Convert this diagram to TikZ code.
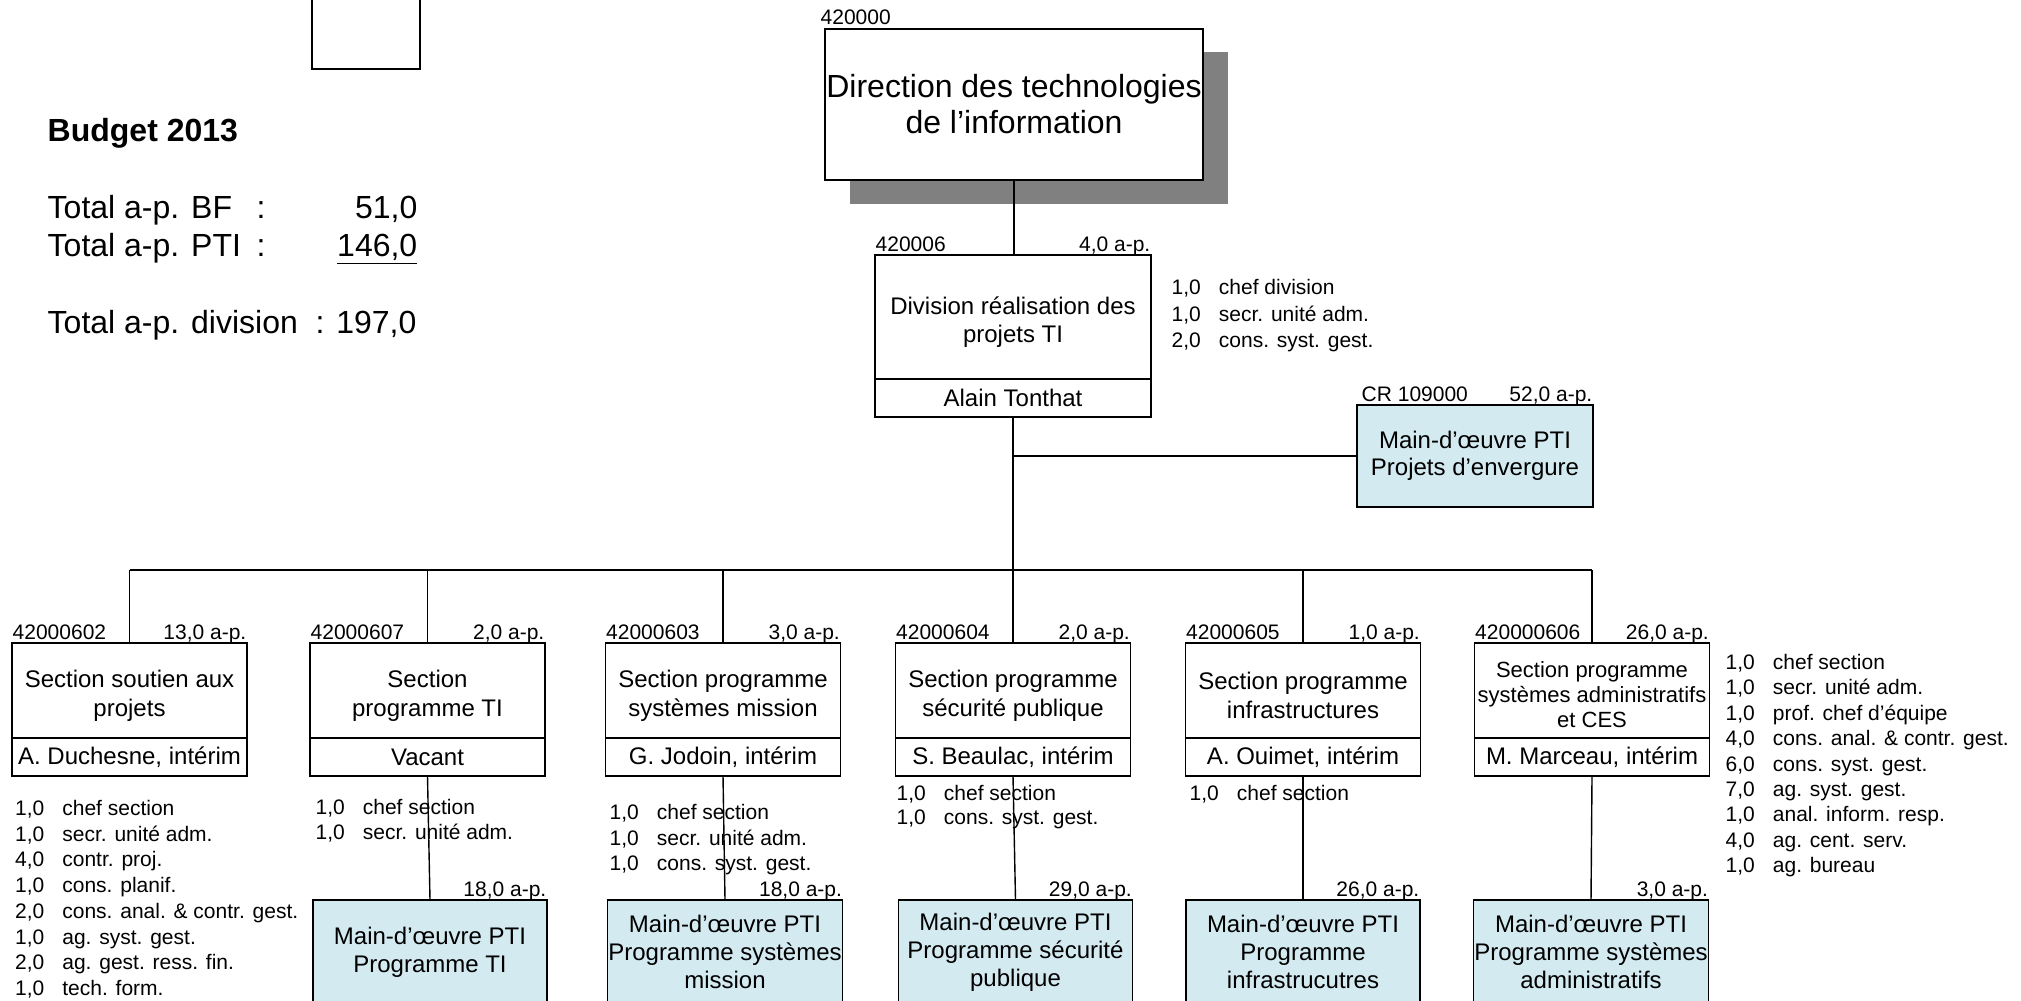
\documentclass[tikz,border=0pt]{standalone}
\usepackage{fontspec}
\setmainfont{Liberation Sans}
\usetikzlibrary{positioning,calc}

\definecolor{ptiblue}{RGB}{211,234,240}
\definecolor{shadowgray}{RGB}{128,128,128}

% invisible strut pushing the first line of a box down a little
\newcommand{\topstrut}[1]{\rule{0pt}{#1}}

\tikzset{
  unitbox/.style={draw, rectangle, outer sep=0pt, inner sep=0.5pt, align=center},
  sectbox/.style={unitbox, minimum width=117.5pt, minimum height=47.5pt, font=\fontsize{12}{14.5}\selectfont},
  namebox/.style={unitbox, minimum width=117.5pt, minimum height=19pt, font=\fontsize{12}{14}\selectfont},
  ptibox/.style={unitbox, fill=ptiblue, minimum width=117pt, minimum height=52pt, font=\fontsize{12}{14}\selectfont},
  tagleft/.style={anchor=base west, inner sep=0pt, yshift=2pt, font=\fontsize{10.5}{12}\selectfont},
  tagright/.style={anchor=base east, inner sep=0pt, yshift=2pt, font=\fontsize{10.5}{12}\selectfont},
  stafflist/.style={anchor=base west, inner sep=0pt, font=\fontsize{10.5}{12.85}\selectfont},
  budgettext/.style={anchor=base west, inner sep=0pt, font=\fontsize{16}{19}\selectfont}
}

\begin{document}
\begin{tikzpicture}[x=0.5pt, y=-0.5pt, line width=0.7pt]
  \useasboundingbox (0,0) rectangle (2021,1000);
  \clip (0,0) rectangle (2021,1000);

  % empty box, top left
  \node[unitbox, minimum width=54pt, minimum height=39.5pt] (blank) at (366,29.5) {};

  % budget
  \node[budgettext, font=\bfseries\fontsize{16}{19}\selectfont] (budget) at (47,141.5) {Budget 2013};
  \node[budgettext] (totbf) at (47,218.5) {Total a-p. BF};
  \node[budgettext] (colbf) at (256,218.5) {:};
  \node[budgettext, anchor=base east] (valbf) at (418,218.5) {51,0};
  \node[budgettext] (totpti) at (47,256.5) {Total a-p. PTI};
  \node[budgettext] (colpti) at (256,256.5) {:};
  \node[budgettext, anchor=base east] (valpti) at (418,256.5) {\underline{146,0}};
  \node[budgettext] (totdiv) at (47,333.5) {Total a-p. division\ \ : 197,0};

  % direction
  \node[fill=shadowgray, minimum width=189pt, minimum height=76pt, inner sep=0pt] (dirshadow) at (1038.5,128) {};
  \node[unitbox, fill=white, minimum width=189pt, minimum height=75.5pt, font=\fontsize{16}{18}\selectfont] (dir) at (1014,104.5) {Direction des technologies\\de l’information};
  \node[tagleft, xshift=-2.5pt] (dirid) at (dir.north west) {420000};

  % division
  \node[unitbox, minimum width=138pt, minimum height=62pt, font=\fontsize{12}{14}\selectfont] (div) at (1013,317) {\topstrut{13.6pt}Division réalisation des\\projets TI};
  \node[namebox, minimum width=138pt, below=0pt of div] (divn) {Alain Tonthat};
  \node[tagleft] (divid) at (div.north west) {420006};
  \node[tagright] (divap) at (div.north east) {4,0 a-p.};
  \node[stafflist, font=\fontsize{10.5}{13.3}\selectfont] (divstaff) at (1171,294.5) {\begin{tabular}[t]{@{}l@{\hspace{9pt}}l@{}}
    1,0 & chef division\\ 1,0 & secr. unité adm.\\ 2,0 & cons. syst. gest.\end{tabular}};

  % CR
  \node[ptibox, minimum width=118pt, minimum height=51pt, font=\fontsize{12}{13.5}\selectfont] (cr) at (1475,456) {Main-d’œuvre PTI\\Projets d’envergure};
  \node[tagleft, xshift=2pt] (crid) at (cr.north west) {CR 109000};
  \node[tagright] (crap) at (cr.north east) {52,0 a-p.};

  % sections
  \node[sectbox] (sec1) at (129.5,690.5) {\topstrut{14pt}Section soutien aux\\projets};
  \node[namebox, below=0pt of sec1] (sec1n) {A. Duchesne, intérim};
  \node[tagleft] (sec1id) at (sec1.north west) {42000602};
  \node[tagright] (sec1ap) at (sec1.north east) {13,0 a-p.};

  \node[sectbox] (sec2) at (427.5,690.5) {\topstrut{14pt}Section\\programme TI};
  \node[namebox, below=0pt of sec2] (sec2n) {Vacant};
  \node[tagleft] (sec2id) at (sec2.north west) {42000607};
  \node[tagright] (sec2ap) at (sec2.north east) {2,0 a-p.};

  \node[sectbox] (sec3) at (723,690.5) {\topstrut{14pt}Section programme\\systèmes mission};
  \node[namebox, below=0pt of sec3] (sec3n) {G. Jodoin, intérim};
  \node[tagleft] (sec3id) at (sec3.north west) {42000603};
  \node[tagright] (sec3ap) at (sec3.north east) {3,0 a-p.};

  \node[sectbox] (sec4) at (1013,690.5) {\topstrut{14pt}Section programme\\sécurité publique};
  \node[namebox, below=0pt of sec4] (sec4n) {S. Beaulac, intérim};
  \node[tagleft] (sec4id) at (sec4.north west) {42000604};
  \node[tagright] (sec4ap) at (sec4.north east) {2,0 a-p.};

  \node[sectbox] (sec5) at (1303,690.5) {\topstrut{14pt}Section programme\\infrastructures};
  \node[namebox, below=0pt of sec5] (sec5n) {A. Ouimet, intérim};
  \node[tagleft] (sec5id) at (sec5.north west) {42000605};
  \node[tagright] (sec5ap) at (sec5.north east) {1,0 a-p.};

  \node[sectbox, font=\fontsize{11}{12.5}\selectfont] (sec6) at (1592,690.5) {\topstrut{12pt}Section programme\\systèmes administratifs\\et CES};
  \node[namebox, below=0pt of sec6] (sec6n) {M. Marceau, intérim};
  \node[tagleft] (sec6id) at (sec6.north west) {420000606};
  \node[tagright] (sec6ap) at (sec6.north east) {26,0 a-p.};

  % staff lists
  \node[stafflist] (sec1staff) at (14.5,815.5) {\begin{tabular}[t]{@{}l@{\hspace{9pt}}l@{}}
    1,0 & chef section\\ 1,0 & secr. unité adm.\\ 4,0 & contr. proj.\\ 1,0 & cons. planif.\\
    2,0 & cons. anal. \& contr. gest.\\ 1,0 & ag. syst. gest.\\ 2,0 & ag. gest. ress. fin.\\ 1,0 & tech. form.\end{tabular}};
  \node[stafflist, font=\fontsize{10.5}{12.5}\selectfont] (sec2staff) at (315,814.5) {\begin{tabular}[t]{@{}l@{\hspace{9pt}}l@{}}
    1,0 & chef section\\ 1,0 & secr. unité adm.\end{tabular}};
  \node[stafflist] (sec3staff) at (609,819.5) {\begin{tabular}[t]{@{}l@{\hspace{9pt}}l@{}}
    1,0 & chef section\\ 1,0 & secr. unité adm.\\ 1,0 & cons. syst. gest.\end{tabular}};
  \node[stafflist, font=\fontsize{10.5}{12.2}\selectfont] (sec4staff) at (896,800.5) {\begin{tabular}[t]{@{}l@{\hspace{9pt}}l@{}}
    1,0 & chef section\\ 1,0 & cons. syst. gest.\end{tabular}};
  \node[stafflist] (sec5staff) at (1189,800.5) {\begin{tabular}[t]{@{}l@{\hspace{9pt}}l@{}}
    1,0 & chef section\end{tabular}};
  \node[stafflist, font=\fontsize{10.5}{12.7}\selectfont] (sec6staff) at (1725,669.5) {\begin{tabular}[t]{@{}l@{\hspace{9pt}}l@{}}
    1,0 & chef section\\ 1,0 & secr. unité adm.\\ 1,0 & prof. chef d’équipe\\ 4,0 & cons. anal. \& contr. gest.\\
    6,0 & cons. syst. gest.\\ 7,0 & ag. syst. gest.\\ 1,0 & anal. inform. resp.\\ 4,0 & ag. cent. serv.\\ 1,0 & ag. bureau\end{tabular}};

  % PTI boxes
  \node[ptibox] (pti2) at (430,952) {Main-d’œuvre PTI\\Programme TI};
  \node[tagright] (pti2ap) at (pti2.north east) {18,0 a-p.};
  \node[ptibox] (pti3) at (725,952) {Main-d’œuvre PTI\\Programme systèmes\\mission};
  \node[tagright] (pti3ap) at (pti3.north east) {18,0 a-p.};
  \node[ptibox] (pti4) at (1015.5,952) {Main-d’œuvre PTI\\Programme sécurité\\publique};
  \node[tagright] (pti4ap) at (pti4.north east) {29,0 a-p.};
  \node[ptibox] (pti5) at (1303,952) {Main-d’œuvre PTI\\Programme\\infrastrucutres};
  \node[tagright] (pti5ap) at (pti5.north east) {26,0 a-p.};
  \node[ptibox] (pti6) at (1591,952) {Main-d’œuvre PTI\\Programme systèmes\\administratifs};
  \node[tagright] (pti6ap) at (pti6.north east) {3,0 a-p.};

  % connectors
  \coordinate (bus) at (1013,570);
  \draw (dir.south) -- (dir.south |- div.north);
  \draw (divn.south) -- (bus);
  \draw (cr.west -| divn.south) -- (cr.west);
  \draw (bus -| sec1.north) -- (bus -| sec6.north);
  \draw (bus -| sec1.north) -- (sec1.north);
  \draw (bus -| sec2.north) -- (sec2.north);
  \draw (bus -| sec3.north) -- (sec3.north);
  \draw (bus -| sec4.north) -- (sec4.north);
  \draw (bus -| sec5.north) -- (sec5.north);
  \draw (bus -| sec6.north) -- (sec6.north);
  \draw (sec2n.south) -- (pti2.north);
  \draw (sec3n.south) -- (pti3.north);
  \draw (sec4n.south) -- (pti4.north);
  \draw (sec5n.south) -- (pti5.north);
  \draw (sec6n.south) -- (pti6.north);

\end{tikzpicture}
\end{document}
